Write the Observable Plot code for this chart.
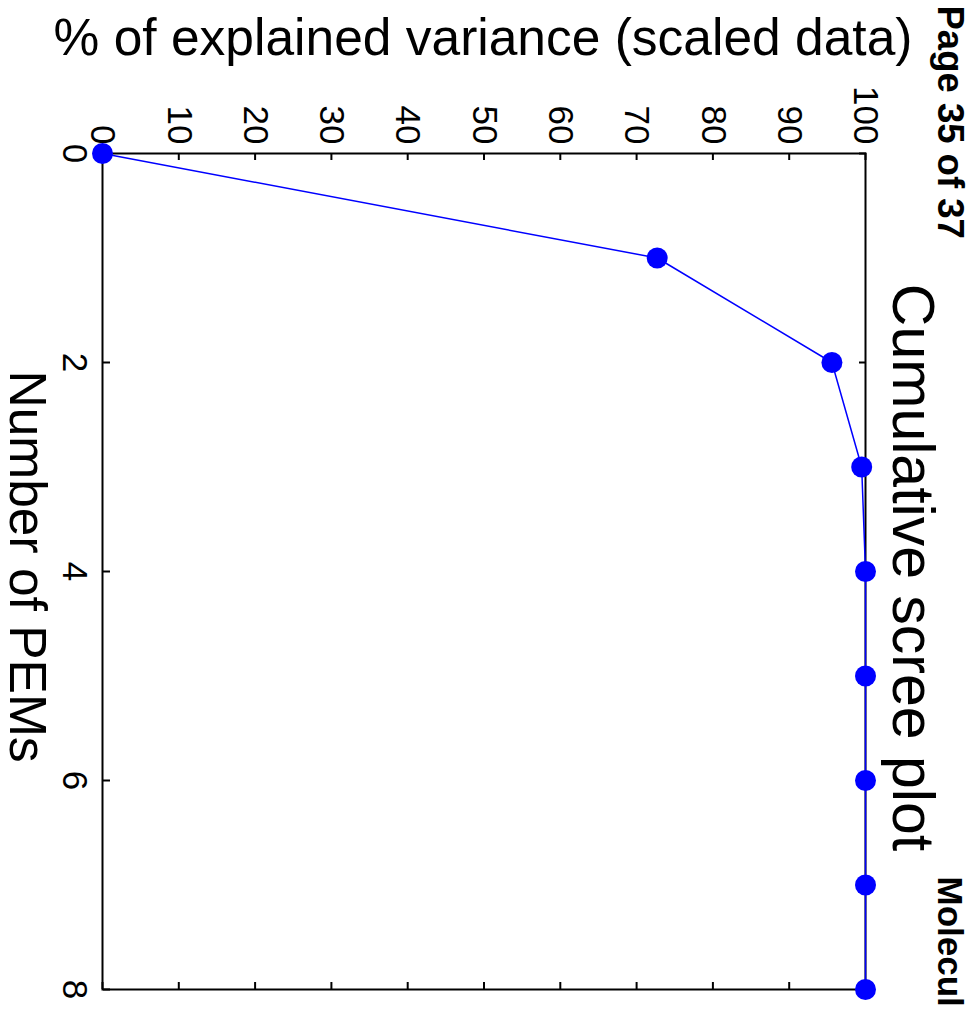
<!DOCTYPE html>
<html>
<head>
<meta charset="utf-8">
<script src="https://cdn.jsdelivr.net/npm/d3@7"></script>
<script src="https://cdn.jsdelivr.net/npm/@observablehq/plot@0.6"></script>
<style>
  html, body { margin: 0; padding: 0; background: white; overflow: hidden; }
  #wrap { position: relative; width: 979px; height: 1009px; overflow: hidden; background: white; }
  #wrap > svg { position: absolute; left: 0; top: 0; max-width: none !important; width: 1009px !important; height: 979px !important; transform-origin: 0 0; transform: translate(979px, 0) rotate(90deg); }
</style>
</head>
<body>
<div id="wrap"></div>
<script>
// Data
const pems = [0, 1, 2, 3, 4, 5, 6, 7, 8];
const cumVariance = [0, 72.7, 95.6, 99.5, 100, 100, 100, 100, 100];
const pemTicks = [0, 2, 4, 6, 8];
const varianceTicks = [0, 10, 20, 30, 40, 50, 60, 70, 80, 90, 100];
const titleText = "Cumulative scree plot";
const xLabel = "Number of PEMs";
const yLabel = "% of explained variance (scaled data)";
const pageText = "Page 35 of 37";
const journalText = "Molecul";

const data = pems.map((p, i) => ({pem: p, v: cumVariance[i]}));

const W = 1009, H = 979;
const mL = 153, mR = 20, mT = 113, mB = 103;
const innerW = W - mL - mR, innerH = H - mT - mB;
const tick = 7;
const font = "'Liberation Sans', Arial, Helvetica, sans-serif";

const chart = Plot.plot({
  width: W,
  height: H,
  marginLeft: mL,
  marginRight: mR,
  marginTop: mT,
  marginBottom: mB,
  x: {domain: [0, 8]},
  y: {domain: [0, 100]},
  style: {fontFamily: font, fontSize: "35px", background: "white", color: "black", overflow: "hidden"},
  marks: [
    Plot.frame({stroke: "black", strokeWidth: 2}),
    Plot.ruleX(pemTicks, {x: d => d, insetTop: innerH - tick, stroke: "black", strokeWidth: 2}),
    Plot.ruleX(pemTicks, {x: d => d, insetBottom: innerH - tick, stroke: "black", strokeWidth: 2}),
    Plot.ruleY(varianceTicks, {y: d => d, insetRight: innerW - tick, stroke: "black", strokeWidth: 2}),
    Plot.ruleY(varianceTicks, {y: d => d, insetLeft: innerW - tick, stroke: "black", strokeWidth: 2}),
    Plot.axisX({ticks: pemTicks, tickSize: 0, tickPadding: 15, label: null, fontSize: 35}),
    Plot.axisY({ticks: varianceTicks, tickSize: 0, tickPadding: 9, label: null, fontSize: 35}),
    Plot.line(data, {x: "pem", y: "v", stroke: "#0000ff", strokeWidth: 1.5}),
    Plot.dot(data, {x: "pem", y: "v", r: 10.5, fill: "#0000ff", stroke: "none"}),
    Plot.text([xLabel], {frameAnchor: "bottom", dy: 93, dx: -5, textAnchor: "middle", lineAnchor: "bottom", fontSize: 51.5, fill: "black"}),
    Plot.text([yLabel], {frameAnchor: "left", dx: -99, dy: 1, rotate: -90, textAnchor: "middle", lineAnchor: "bottom", fontSize: 51.5, fill: "black"}),
    Plot.text([titleText], {frameAnchor: "top", dy: -27, dx: -4, textAnchor: "middle", lineAnchor: "bottom", fontSize: 59, fill: "black"}),
    Plot.text([pageText], {frameAnchor: "top-left", dx: -148, dy: -72, textAnchor: "start", lineAnchor: "bottom", fontSize: 36.5, fontWeight: "bold", fill: "black"}),
    Plot.text([journalText], {frameAnchor: "top-right", dx: -113, dy: -72, textAnchor: "start", lineAnchor: "bottom", fontSize: 35, fontWeight: "bold", fill: "black"})
  ]
});

document.getElementById("wrap").appendChild(chart);
</script>
</body>
</html>
